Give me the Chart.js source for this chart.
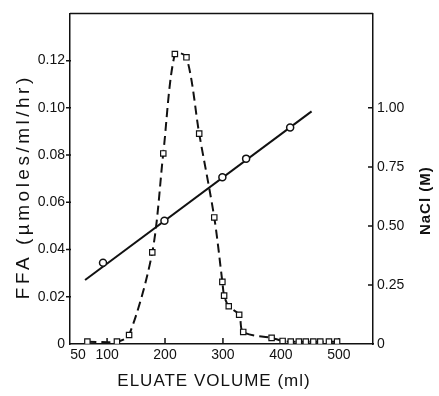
<!DOCTYPE html>
<html>
<head>
<meta charset="utf-8">
<script src="https://cdn.jsdelivr.net/npm/chart.js@4/dist/chart.umd.min.js"></script>
<style>
html,body{margin:0;padding:0;background:#fff;}
#wrap{width:439px;height:396px;position:relative;}
canvas{display:block;}
</style>
</head>
<body>
<div id="wrap"><canvas id="c" width="439" height="396"></canvas></div>
<script>
// ---- data ----
const ffaVolume   = [66, 117, 138, 178, 197, 217, 237, 259, 285, 299, 302, 310, 328, 335, 384, 403, 417, 431, 443, 456, 468, 483, 497];
const ffaActivity = [0.001, 0.001, 0.0038, 0.0388, 0.0807, 0.1228, 0.1214, 0.0891, 0.0536, 0.0263, 0.0205, 0.016, 0.0124, 0.0051, 0.0026, 0.0013, 0.001, 0.001, 0.001, 0.001, 0.001, 0.001, 0.001];
const naclVolume   = [93, 199, 299, 340, 416];
const naclMolarity = [0.344, 0.522, 0.706, 0.785, 0.917];
const naclLineVolume   = [62, 453];
const naclLineMolarity = [0.271, 0.985];
const xTickValues    = [50, 100, 200, 300, 400, 500];
const ffaTickValues  = [0, 0.02, 0.04, 0.06, 0.08, 0.10, 0.12];
const naclTickValues = [0, 0.25, 0.50, 0.75, 1.00];

const INK = '#111';
const FONT = "'Liberation Sans', Arial, sans-serif";

const pts = (xs, ys) => xs.map((x, i) => ({x, y: ys[i]}));

const titleTweaks = {
  y:  {spacing: '3.5px', dx: 0, dy: 8, flip: false},
  y1: {spacing: '1px', dx: 0, dy: 22, flip: true, size: 15, pad: 4},
  x:  {spacing: '1px', dx: -7.5, dy: 0, flip: false}
};

const tweakPlugin = {
  id: 'tweaks',
  afterLayout(chart) {
    for (const id in titleTweaks) {
      const s = chart.scales[id];
      if (!s || s._tw) continue;
      const orig = s.drawTitle.bind(s);
      const t = titleTweaks[id];
      s.drawTitle = function () {
        const ctx = this.ctx;
        ctx.save();
        ctx.letterSpacing = t.spacing;
        if (t.flip) {
          const px = this.right - (t.size * 1.2 / 2 + t.pad);
          const py = (this.top + this.bottom) / 2;
          ctx.translate(px + t.dx, py + t.dy);
          ctx.rotate(Math.PI);
          ctx.translate(-px, -py);
        } else {
          ctx.translate(t.dx, t.dy);
        }
        orig();
        ctx.restore();
      };
      s._tw = true;
    }
  },
  beforeDatasetsDraw(chart) {
    const {ctx, chartArea: ca, scales} = chart;
    ctx.save();
    ctx.strokeStyle = INK;
    ctx.lineWidth = 1.5;
    ctx.beginPath();
    // top frame
    ctx.moveTo(ca.left, ca.top);
    ctx.lineTo(ca.right, ca.top);
    xTickValues.forEach(v => {
      if (v === 50) return;
      const p = scales.x.getPixelForValue(v);
      ctx.moveTo(p, ca.bottom);
      ctx.lineTo(p, ca.bottom - 6);
    });
    ffaTickValues.forEach(v => {
      if (v === 0) return;
      const p = scales.y.getPixelForValue(v);
      ctx.moveTo(ca.left - 4, p);
      ctx.lineTo(ca.left + 1, p);
    });
    naclTickValues.forEach(v => {
      if (v === 0) return;
      const p = scales.y1.getPixelForValue(v);
      ctx.moveTo(ca.right - 5, p);
      ctx.lineTo(ca.right, p);
    });
    ctx.stroke();
    ctx.restore();
  }
};

new Chart(document.getElementById('c'), {
  type: 'scatter',
  data: {
    datasets: [
      {
        label: 'FFA',
        data: pts(ffaVolume, ffaActivity),
        yAxisID: 'y',
        showLine: true,
        borderColor: INK,
        borderWidth: 2,
        borderDash: [9, 5],
        tension: 0.3,
        pointStyle: 'rect',
        pointRadius: 3.8,
        pointBackgroundColor: '#fff',
        pointBorderColor: INK,
        pointBorderWidth: 1.2,
        order: 3
      },
      {
        label: 'NaCl line',
        data: pts(naclLineVolume, naclLineMolarity),
        yAxisID: 'y1',
        showLine: true,
        borderColor: INK,
        borderWidth: 2,
        pointRadius: 0,
        order: 2
      },
      {
        label: 'NaCl',
        data: pts(naclVolume, naclMolarity),
        yAxisID: 'y1',
        showLine: false,
        pointStyle: 'circle',
        pointRadius: 3.5,
        pointBackgroundColor: '#fff',
        pointBorderColor: INK,
        pointBorderWidth: 1.5,
        order: 1
      }
    ]
  },
  options: {
    responsive: false,
    animation: false,
    devicePixelRatio: 1,
    layout: {padding: {top: 8, left: 0, right: 0, bottom: 0}},
    plugins: {legend: {display: false}, tooltip: {enabled: false}},
    scales: {
      x: {
        type: 'linear',
        min: 36, max: 559,
        afterBuildTicks: s => { s.ticks = xTickValues.map(v => ({value: v})); },
        afterFit: s => { s.height = 52; },
        grid: {display: true, drawOnChartArea: false, drawTicks: false},
        border: {display: true, color: INK, width: 1.5},
        ticks: {color: INK, font: {family: FONT, size: 14}, padding: 3, maxRotation: 0, autoSkip: false},
        title: {display: true, text: 'ELUATE VOLUME (ml)', color: INK, font: {family: FONT, size: 17}, padding: {top: 0, bottom: 4.8}}
      },
      y: {
        type: 'linear', position: 'left',
        min: 0, max: 0.14,
        afterBuildTicks: s => { s.ticks = ffaTickValues.map(v => ({value: v})); },
        afterFit: s => { s.width = 70; },
        grid: {display: true, drawOnChartArea: false, drawTicks: false},
        border: {display: true, color: INK, width: 1.5},
        ticks: {color: INK, font: {family: FONT, size: 14}, padding: 5, callback: v => v === 0 ? '0' : v.toFixed(2)},
        title: {display: true, text: 'FFA (µmoles/ml/hr)', color: INK, font: {family: FONT, size: 19}, padding: {top: 12.6, bottom: 0}}
      },
      y1: {
        type: 'linear', position: 'right',
        min: 0, max: 1.4,
        afterBuildTicks: s => { s.ticks = naclTickValues.map(v => ({value: v})); },
        afterFit: s => { s.width = 66; },
        grid: {display: true, drawOnChartArea: false, drawTicks: false},
        border: {display: true, color: INK, width: 1.5},
        ticks: {color: INK, font: {family: FONT, size: 14}, padding: 4, callback: v => v === 0 ? '0' : v.toFixed(2)},
        title: {display: true, text: 'NaCl (M)', color: INK, font: {family: FONT, size: 15, weight: 'bold'}, padding: {top: 4, bottom: 0}}
      }
    }
  },
  plugins: [tweakPlugin]
});
</script>
</body>
</html>
